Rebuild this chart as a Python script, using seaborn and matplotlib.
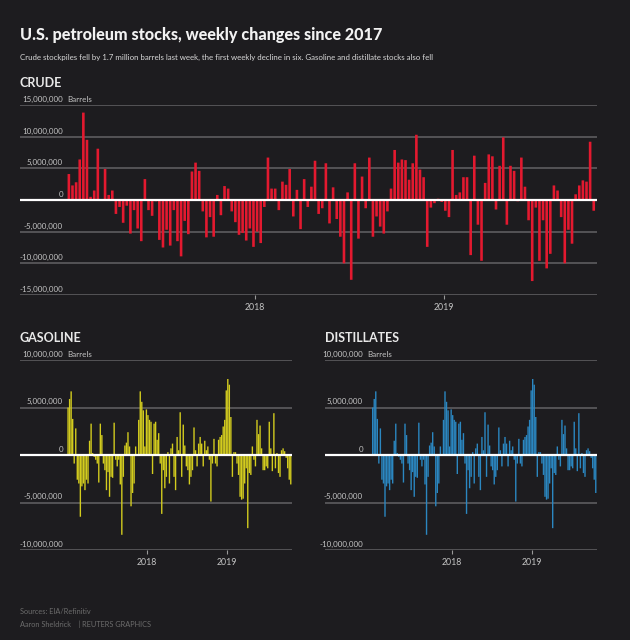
import numpy as np
import pandas as pd
import seaborn as sns
import matplotlib.pyplot as plt

# weekly changes, million barrels, first week ending 2017-01-06
start = pd.Timestamp('2017-01-06')

crude = [4.1, 2.3, 2.8, 6.4, 13.8, 9.5, 0.5, 1.5, 8.1, 0.1,
         4.9, 0.8, 1.5, -2.2, -1.1, -3.6, -0.9, -5.3, -1.6, -4.5,
         -6.5, 3.3, -1.6, -2.5, -0.2, -6.3, -7.5, -4.7, -7.2, -1.6,
         -6.5, -8.9, -3.3, -5.4, 4.5, 5.9, 4.6, -1.8, -5.9, -2.7,
         -5.8, 0.8, -2.4, 2.2, 1.8, -1.8, -3.5, -5.5, -5.2, -6.4,
         -4.5, -7.4, -5.0, -6.8, -1.1, 6.7, 1.8, 1.8, -1.6, 2.9,
         2.4, 4.9, -2.6, 1.6, -4.6, 3.3, -1.1, 2.1, 6.2, -2.2,
         -1.3, 5.8, -3.7, 2.0, -3.0, -5.8, -10.0, 1.2, -12.6, 5.8,
         -6.1, 3.7, -1.3, 6.7, -5.8, -2.6, -4.2, -5.3, -1.8, 1.8,
         7.9, 5.9, 6.4, 6.3, 3.2, 5.8, 10.3, 4.8, 3.6, -7.4,
         -1.2, -0.5, 0.2, -0.3, -1.7, -2.7, 7.9, 0.8, 1.2, 3.6,
         3.6, -8.7, 7.0, -3.9, -9.6, 2.7, 7.2, 6.9, -1.5, 5.4,
         9.9, -3.9, 5.4, 4.6, -0.2, 6.7, 2.1, -3.2, -12.8, -1.2,
         -9.6, -3.2, -10.8, -8.5, 2.3, 1.5, -2.7, -10.0, -4.7, -6.9,
         0.9, 2.3, 3.1, 2.9, 9.2, -1.7]

gasoline = [5.0, 5.9, 6.7, 3.8, -0.9, 2.8, -2.6, -3.0, -6.5, -3.3,
            -3.0, -3.7, -2.6, -3.0, 1.5, 3.3, 0.2, -0.2, -0.5, -0.9,
            -2.9, 3.3, 2.1, -0.9, -1.6, -3.7, -1.8, -4.4, -2.3, -2.4,
            3.4, -0.5, -1.2, -0.5, -3.1, -8.4, -2.3, 1.0, 1.3, 2.4,
            0.9, -5.4, -4.0, -3.0, 0.9, 0.1, 3.7, 6.7, 5.6, 4.7,
            0.9, 4.8, 4.2, 3.7, 3.5, -2.0, 3.3, 3.5, 1.6, 2.3,
            -0.9, -6.2, -1.6, -3.5, -2.3, 0.3, -3.0, 0.7, 1.2, -2.3,
            -3.7, 1.9, 0.5, 4.5, -2.3, 3.2, 1.0, -1.2, -1.6, -3.1,
            -2.3, -1.6, 2.9, 0.5, -1.2, 1.2, 1.9, 1.2, -1.2, 1.5,
            0.5, 0.9, -0.5, -4.9, -0.9, 1.7, -0.9, -1.2, 1.6, 1.9,
            2.1, 3.0, 3.7, 6.8, 8.0, 7.4, 4.0, -2.3, 0.3, 0.3,
            -0.9, -2.1, -4.4, -4.7, -4.6, -3.0, -1.4, -7.7, -1.9, -2.1,
            0.9, -0.5, -1.2, 3.7, 2.2, 3.1, 0.7, -1.6, -1.6, -1.2,
            -1.4, 3.5, 0.7, -1.7, 4.4, -1.4, 0.2, -1.9, -2.3, 0.5,
            0.7, 0.4, -0.3, -1.4, -2.6, -3.1]

distillates = [5.0, 5.9, 6.7, 3.8, -0.9, 2.8, -2.6, -3.0, -6.5, -3.3,
               -3.0, -3.7, -2.6, -3.0, 1.5, 3.3, 0.2, -0.2, -0.5, -0.9,
               -2.9, 3.3, 2.1, -0.9, -1.6, -3.7, -1.8, -4.4, -2.3, -2.4,
               3.4, -0.5, -1.2, -0.5, -3.1, -8.4, -2.3, 1.0, 1.3, 2.4,
               0.9, -5.4, -4.0, -3.0, 0.9, 0.1, 3.7, 6.7, 5.6, 4.7,
               0.9, 4.8, 4.2, 3.7, 3.5, -2.0, 3.3, 3.5, 1.6, 2.3,
               -0.9, -6.2, -1.6, -3.5, -2.3, 0.3, -3.0, 0.7, 1.2, -2.3,
               -3.7, 1.9, 0.5, 4.5, -2.3, 3.2, 1.0, -1.2, -1.6, -3.1,
               -2.3, -1.6, 2.9, 0.5, -1.2, 1.2, 1.9, 1.2, -1.2, 1.5,
               0.5, 0.9, -0.5, -4.9, -0.9, 1.7, -0.9, -1.2, 1.6, 1.9,
               2.1, 3.0, 3.7, 6.8, 8.0, 7.4, 4.0, -2.3, 0.3, 0.3,
               -0.9, -2.1, -4.4, -4.7, -4.6, -3.0, -1.4, -7.7, -1.9, -2.1,
               0.9, -0.5, -1.2, 3.7, 2.2, 3.1, 0.7, -1.6, -1.6, -1.2,
               -1.4, 3.5, 0.7, -1.7, 4.4, -1.4, 0.2, -1.9, -2.3, 0.5,
               0.7, 0.4, -0.3, -1.4, -2.6, -4.0]

years = ['2018', '2019']
crude_ticks = [-15e6, -10e6, -5e6, 0, 5e6, 10e6, 15e6]
product_ticks = [-10e6, -5e6, 0, 5e6, 10e6]

bg = '#1d1c1f'
grid_c = '#58575a'
label_c = '#c4c4c4'

sns.set_theme(style='dark')
plt.rcParams['font.family'] = ['Lato', 'DejaVu Sans']

fig = plt.figure(figsize=(6.3, 6.4), dpi=100, facecolor=bg)
W, H = 630, 640


def panel(left, top, right, bottom, values, color, ticks, width, xlim, label_px):
    ax = fig.add_axes([left / W, 1 - bottom / H, (right - left) / W, (bottom - top) / H])
    ax.set_facecolor(bg)
    n = len(values)
    df = pd.DataFrame({'week': np.arange(n), 'change': np.array(values) * 1e6})
    sns.barplot(data=df, x='week', y='change', color=color, saturation=1,
                width=width, errorbar=None, linewidth=0, ax=ax, zorder=2)
    for p in ax.patches:
        p.set_snap(False)
    ax.set_ylim(ticks[0], ticks[-1])
    ax.set_xlim(*xlim)
    ax.set_yticks(ticks)
    ax.set_yticklabels([])
    ax.grid(False)
    for t in ticks:
        if t == 0:
            ax.axhline(0, color='white', lw=1.6, zorder=3)
        else:
            ax.axhline(t, color=grid_c, lw=1.3, zorder=1)
    lx = label_px / (right - left)
    tr = ax.get_yaxis_transform()
    for t in ticks:
        ax.annotate(f'{int(t):,}', xy=(lx, t), xycoords=tr, xytext=(0, 1.5),
                    textcoords='offset points', ha='right', va='bottom',
                    color=label_c, fontsize=5.8)
    ax.annotate('Barrels', xy=(lx, ticks[-1]), xycoords=tr, xytext=(3, 1.5),
                textcoords='offset points', ha='left', va='bottom',
                color=label_c, fontsize=5.8)
    pos = [(pd.Timestamp(f'{y}-01-01') - start).days / 7 for y in years]
    ax.set_xticks(pos)
    ax.set_xticklabels(years, color=label_c, fontsize=6.3)
    ax.tick_params(axis='x', length=3, width=0.8, color='#9a9a9a', pad=3, bottom=True)
    ax.tick_params(axis='y', length=0)
    ax.set_xlabel('')
    ax.set_ylabel('')
    for s in ax.spines.values():
        s.set_visible(False)
    return ax


panel(20, 105, 597, 295, crude, '#e3192f', crude_ticks, 0.72, (-13.5, 145.9), 43)
panel(20, 360, 292, 550, gasoline, '#d3cc1e', product_ticks, 0.9, (-31.3, 145.8), 43)
panel(325, 360, 597, 550, distillates, '#2b87c1', product_ticks, 0.9, (-31.0, 145.8), 38)

fig.text(20 / W, 1 - 35 / H, 'U.S. petroleum stocks, weekly changes since 2017',
         color='#f2f2f2', fontsize=11.6, fontweight='black', va='center')
fig.text(20 / W, 1 - 57 / H,
         'Crude stockpiles fell by 1.7 million barrels last week, the first weekly decline in six. '
         'Gasoline and distillate stocks also fell',
         color='#d8d8d8', fontsize=5.7, va='center')
fig.text(20 / W, 1 - 83 / H, 'CRUDE', color='#e8e8e8', fontsize=9, fontweight='bold', va='center')
fig.text(20 / W, 1 - 338 / H, 'GASOLINE', color='#e8e8e8', fontsize=9, fontweight='bold', va='center')
fig.text(325 / W, 1 - 338 / H, 'DISTILLATES', color='#e8e8e8', fontsize=9, fontweight='bold', va='center')
fig.text(20 / W, 1 - 612 / H, 'Sources: EIA/Refinitiv', color='#6c6c6c', fontsize=5.3, va='center')
fig.text(20 / W, 1 - 624 / H, 'Aaron Sheldrick    | REUTERS GRAPHICS', color='#6c6c6c', fontsize=5.3, va='center')

fig.savefig('out.png', dpi=100, facecolor=bg)
